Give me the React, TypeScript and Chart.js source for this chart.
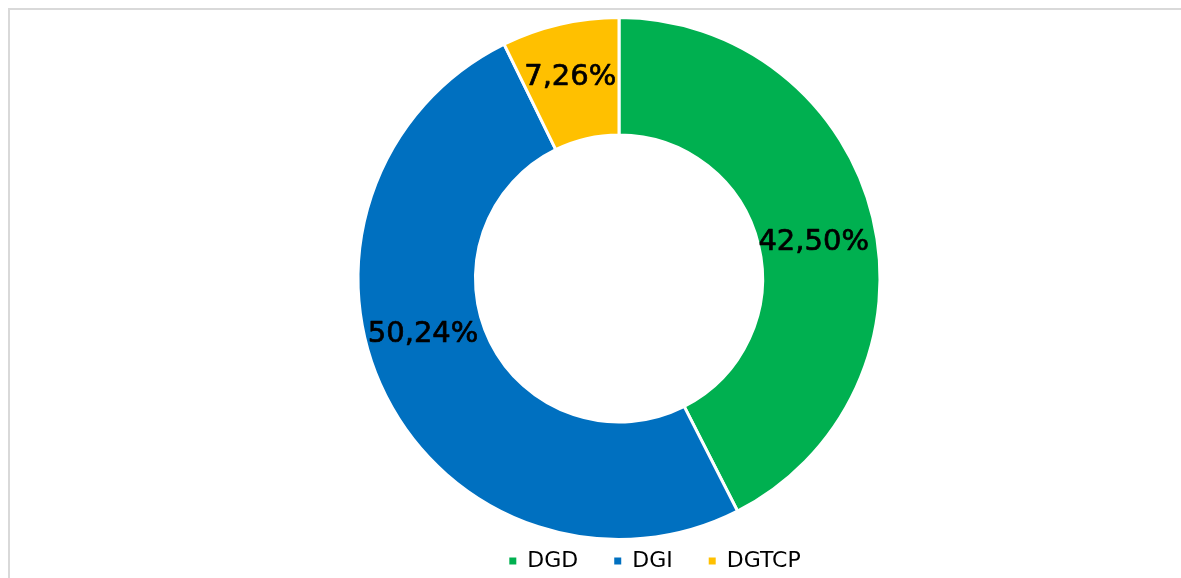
import React, { useEffect, useRef } from "react";
import { Chart, registerables } from "chart.js";

Chart.register(...registerables);

const categories = ["DGD", "DGI", "DGTCP"];
const shares = [42.5, 50.24, 7.26];
const sliceColors = ["#00B050", "#0070C0", "#FFC000"];

const formatShare = (v: number) => v.toFixed(2).replace(".", ",") + "%";

const sliceLabels = {
  id: "sliceLabels",
  afterDatasetsDraw(chart: any, _args: any, opts: any) {
    const meta = chart.getDatasetMeta(0);
    const ctx = chart.ctx;
    ctx.save();
    ctx.font = opts.font;
    ctx.fillStyle = opts.color;
    ctx.strokeStyle = opts.color;
    ctx.lineWidth = opts.weight || 0;
    ctx.lineJoin = "round";
    ctx.textAlign = "center";
    ctx.textBaseline = "middle";
    meta.data.forEach((arc: any, i: number) => {
      const p = arc.tooltipPosition(false);
      const off = (opts.offsets && opts.offsets[i]) || [0, 0];
      const t = formatShare(shares[i]);
      ctx.fillText(t, p.x + off[0], p.y + off[1]);
      if (opts.weight) ctx.strokeText(t, p.x + off[0], p.y + off[1]);
    });
    ctx.restore();
  },
};

const legendNudge = {
  id: "legendNudge",
  afterLayout(chart: any, _args: any, opts: any) {
    const l = chart.legend;
    if (l && opts && opts.dy) {
      l.top += opts.dy;
      l.bottom += opts.dy;
    }
  },
};

export default function App() {
  const ref = useRef<HTMLCanvasElement | null>(null);

  useEffect(() => {
    if (!ref.current) return;
    const baseGen = (Chart as any).overrides.doughnut.plugins.legend.labels.generateLabels;
    const chart = new Chart(ref.current, {
      type: "doughnut",
      data: {
        labels: categories,
        datasets: [
          {
            data: shares,
            backgroundColor: sliceColors,
            borderColor: "#ffffff",
            borderWidth: 3,
          },
        ],
      },
      plugins: [sliceLabels, legendNudge],
      options: {
        responsive: false,
        animation: false,
        cutout: "55%",
        layout: { padding: { top: 6, left: 0, right: 0, bottom: 0 } },
        plugins: {
          tooltip: { enabled: false },
          title: {
            display: true,
            position: "right",
            text: "",
            fullSize: false,
            font: { size: 12, lineHeight: 1 },
            padding: { top: 60, bottom: 0 },
          },
          legend: {
            position: "bottom",
            labels: {
              boxWidth: 7,
              boxHeight: 7,
              padding: 36,
              color: "#000000",
              font: { family: "'DejaVu Sans', sans-serif", size: 22 },
              generateLabels: (c: any) =>
                baseGen(c).map((item: any) => ({ ...item, lineWidth: 0, strokeStyle: item.fillStyle })),
            },
          },
          sliceLabels: {
            font: "29px 'DejaVu Sans', sans-serif",
            color: "#000000",
            weight: 0.7,
            offsets: [
              [-2, 11],
              [-15, -35],
              [-3, -4],
            ],
          },
          legendNudge: { dy: -27 },
        } as any,
      },
    });
    return () => chart.destroy();
  }, []);

  return (
    <div
      style={{
        position: "fixed",
        left: 0,
        top: 0,
        width: 1181,
        height: 578,
        overflow: "hidden",
        background: "#ffffff",
      }}
    >
      <div style={{ position: "absolute", left: 8, top: 8, width: 1400, height: 2, background: "#d9d9d9" }} />
      <div style={{ position: "absolute", left: 8, top: 8, width: 2, height: 800, background: "#d9d9d9" }} />
      <canvas
        ref={ref}
        width={1290}
        height={599}
        style={{ display: "block", position: "absolute", left: 10, top: 10 }}
      />
    </div>
  );
}
